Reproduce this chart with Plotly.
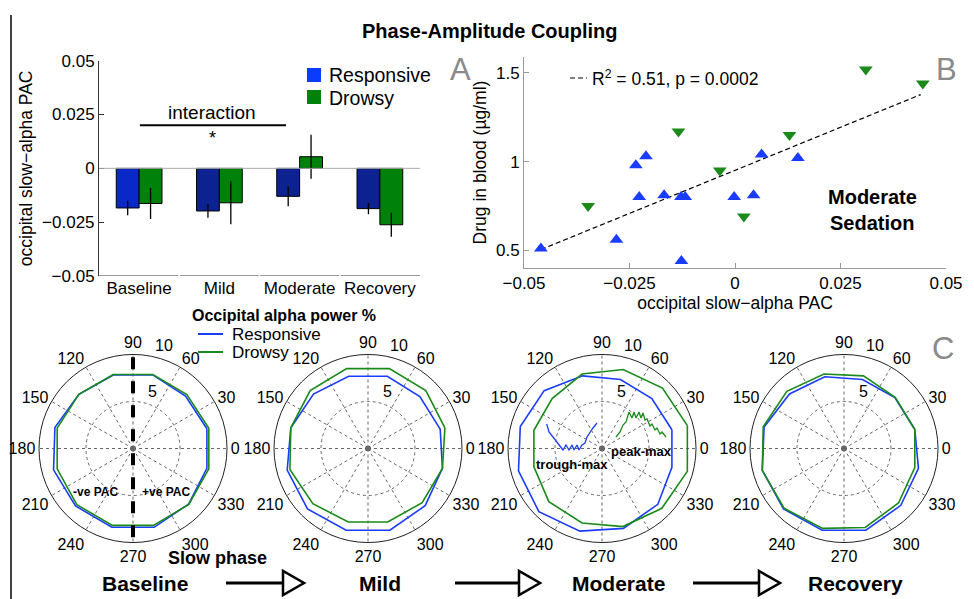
import plotly.graph_objects as go

# ---------------- data ----------------
categories = ["Baseline", "Mild", "Moderate", "Recovery"]
resp_pac = [-0.0184, -0.0198, -0.0130, -0.0187]
resp_err = [0.0034, 0.0032, 0.0046, 0.0026]
drowsy_pac = [-0.0163, -0.0160, 0.0054, -0.0262]
drowsy_err = [0.0072, 0.0100, 0.0102, 0.0056]

resp_x = [-0.0460, -0.0281, -0.0127, -0.0235, -0.0211, -0.0227, -0.0168,
          -0.0128, -0.0118, -0.0002, 0.0044, 0.0063, 0.0149]
resp_y = [0.51, 0.56, 0.44, 0.98, 1.03, 0.80, 0.81, 0.80, 0.80, 0.80, 0.81, 1.04, 1.02]
drowsy_x = [-0.0348, -0.0134, -0.0036, 0.0021, 0.0129, 0.0310, 0.0445]
drowsy_y = [0.75, 1.17, 0.95, 0.69, 1.15, 1.52, 1.44]
fit_x = [-0.046, 0.044]
fit_y = [0.504, 1.378]

phase_bins = [15, 45, 75, 105, 135, 165, 195, 225, 255, 285, 315, 345]
power_resp = {
    "Baseline": [8.14, 7.90, 8.10, 8.10, 8.14, 8.60, 8.75, 8.65, 8.68, 8.68, 8.36, 8.14],
    "Mild":     [7.95, 7.80, 7.95, 7.95, 8.20, 8.50, 8.90, 9.10, 9.00, 9.00, 8.60, 8.20],
    "Moderate": [7.70, 7.50, 7.60, 8.00, 8.70, 9.00, 9.20, 9.50, 9.10, 8.80, 8.40, 7.70],
    "Recovery": [7.80, 7.65, 7.60, 7.90, 8.20, 8.80, 9.00, 9.10, 9.00, 9.00, 8.55, 8.20],
}
power_drowsy = {
    "Baseline": [8.35, 8.10, 8.15, 8.15, 8.14, 8.35, 8.35, 8.45, 8.47, 8.47, 8.40, 8.35],
    "Mild":     [8.47, 8.70, 8.80, 8.80, 8.70, 8.50, 8.60, 8.30, 8.10, 8.10, 8.15, 8.20],
    "Moderate": [9.40, 9.10, 8.70, 8.20, 7.50, 7.50, 7.50, 8.00, 8.20, 8.60, 9.00, 9.40],
    "Recovery": [7.80, 7.70, 8.00, 8.20, 8.60, 8.90, 9.00, 9.00, 8.80, 8.70, 8.20, 7.80],
}
angle_ticks = [0, 30, 60, 90, 120, 150, 180, 210, 240, 270, 300, 330]
radial_tick_text = ["5", "10"]

# schematic insets (moderate panel)
trough_x = [6.7, 9, 13, 16, 20, 23, 26, 29, 32, 34, 37, 39, 42, 45, 47, 50, 53, 57]
trough_y = [31, 23, 18, 14, 9, 5, 10, 5, 10, 5, 10, 5, 10, 12, 18, 23, 27, 32]
peak_x = [76, 80, 83, 86, 89, 92, 94, 96, 99, 101, 103, 105, 107, 110, 112, 115, 117, 120, 122, 126]
peak_y = [18, 23, 30, 33, 43, 37, 43, 37, 43, 37, 42, 35, 36, 29, 31, 25, 27, 21, 23, 18]

# ---------------- style ----------------
W, H = 974, 599
FONT = "Liberation Sans, Arial, Helvetica, sans-serif"
BLUE = "#1a3cff"
BLUE_BAR0 = "#0a28c8"
BLUE_BAR = "#0c2290"
GREEN = "#1a8a1a"
GREEN_BAR = "#00820a"


def px(x):
    return x / W


def py(y):
    return 1 - y / H


fig = go.Figure()

# ---------- Panel A ----------
fig.add_trace(go.Bar(
    x=[1, 2, 3, 4], y=resp_pac, name="Responsive",
    marker=dict(color=[BLUE_BAR0, BLUE_BAR, BLUE_BAR, BLUE_BAR], line=dict(color="black", width=1)),
    error_y=dict(type="data", array=resp_err, color="black", thickness=1.3, width=0),
    xaxis="x", yaxis="y", showlegend=False))
fig.add_trace(go.Bar(
    x=[1, 2, 3, 4], y=drowsy_pac, name="Drowsy",
    marker=dict(color=GREEN_BAR, line=dict(color="black", width=1)),
    error_y=dict(type="data", array=drowsy_err, color="black", thickness=1.3, width=0),
    xaxis="x", yaxis="y", showlegend=False))

# ---------- Panel B ----------
fig.add_trace(go.Scatter(x=fit_x, y=fit_y, mode="lines",
                         line=dict(color="black", width=1.2, dash="5px,3px"),
                         xaxis="x2", yaxis="y2", showlegend=False))
fig.add_trace(go.Scatter(x=resp_x, y=resp_y, mode="markers",
                         marker=dict(symbol="triangle-up", size=12, color=BLUE),
                         xaxis="x2", yaxis="y2", showlegend=False))
fig.add_trace(go.Scatter(x=drowsy_x, y=drowsy_y, mode="markers",
                         marker=dict(symbol="triangle-down", size=12, color=GREEN),
                         xaxis="x2", yaxis="y2", showlegend=False))

# ---------- Panel C (polar) ----------
centers = [(133, 448.5), (368, 448.5), (602, 448.5), (844, 448.5)]
R = 94
polar_names = ["polar", "polar2", "polar3", "polar4"]
for cond, pname in zip(categories, polar_names):
    th = phase_bins + [phase_bins[0]]
    fig.add_trace(go.Scatterpolar(r=power_resp[cond] + [power_resp[cond][0]], theta=th,
                                  mode="lines", line=dict(color=BLUE, width=1.6),
                                  subplot=pname, showlegend=False))
    fig.add_trace(go.Scatterpolar(r=power_drowsy[cond] + [power_drowsy[cond][0]], theta=th,
                                  mode="lines", line=dict(color=GREEN, width=1.6),
                                  subplot=pname, showlegend=False))
    fig.add_trace(go.Scatterpolar(r=[0], theta=[0], mode="markers",
                                  marker=dict(symbol="circle-open", size=5, color="#555",
                                              line=dict(width=1)),
                                  subplot=pname, showlegend=False))

# baseline dashed divider
fig.add_trace(go.Scatterpolar(r=[9.7, 0, 9.7], theta=[90, 90, 270], mode="lines",
                              line=dict(color="black", width=4, dash="dash"),
                              subplot="polar", showlegend=False))

# inset waveforms
fig.add_trace(go.Scatter(x=trough_x, y=trough_y, mode="lines", line=dict(color=BLUE, width=1.3),
                         xaxis="x3", yaxis="y3", showlegend=False))
fig.add_trace(go.Scatter(x=peak_x, y=peak_y, mode="lines", line=dict(color=GREEN, width=1.3),
                         xaxis="x3", yaxis="y3", showlegend=False))

tickfont = dict(family=FONT, size=17, color="black")
titlefont = dict(family=FONT, size=17.5, color="black")
polarfont = dict(family=FONT, size=16, color="black")

layout = dict(
    width=W, height=H, margin=dict(l=0, r=0, t=0, b=0, pad=0, autoexpand=False),
    paper_bgcolor="white", plot_bgcolor="rgba(0,0,0,0)",
    font=dict(family=FONT, color="black"),
    barmode="group", bargap=0.43, bargroupgap=0.0,
    showlegend=False,
    xaxis=dict(domain=[px(99), px(420)], range=[0.5, 4.5], tickvals=[1, 2, 3, 4],
               ticktext=categories, showline=False, showgrid=False, zeroline=False,
               ticks="", tickfont=tickfont, anchor="y", automargin=False),
    yaxis=dict(domain=[py(276), py(60.7)], range=[-0.05, 0.05],
               tickvals=[-0.05, -0.025, 0, 0.025, 0.05],
               ticktext=["−0.05", "−0.025", "0", "0.025", "0.05"],
               showline=True, linecolor="#333", linewidth=1, showgrid=False, zeroline=False,
               ticks="inside", ticklen=5, tickcolor="#333", tickfont=tickfont,
               title=dict(text="occipital slow−alpha PAC", font=titlefont, standoff=4),
               anchor="x", automargin=False),
    xaxis2=dict(domain=[px(524), px(946)], range=[-0.05, 0.05],
                tickvals=[-0.05, -0.025, 0, 0.025, 0.05],
                ticktext=["−0.05", "−0.025", "0", "0.025", "0.05"],
                showline=True, linecolor="#999", linewidth=1, showgrid=False, zeroline=False,
                ticks="inside", ticklen=5, tickcolor="#999", tickfont=tickfont,
                title=dict(text="occipital slow−alpha PAC", font=titlefont, standoff=0),
                anchor="y2", automargin=False),
    yaxis2=dict(domain=[py(268), py(57)], range=[0.4, 1.59], tickvals=[0.5, 1, 1.5],
                ticktext=["0.5", "1", "1.5"],
                showline=True, linecolor="#999", linewidth=1, showgrid=False, zeroline=False,
                ticks="inside", ticklen=5, tickcolor="#999", tickfont=tickfont,
                title=dict(text="Drug in blood (µg/ml)", font=titlefont, standoff=4),
                anchor="x2", automargin=False),
    xaxis3=dict(domain=[px(540), px(670)], range=[0, 130], visible=False, anchor="y3"),
    yaxis3=dict(domain=[py(455), py(405)], range=[0, 50], visible=False, anchor="x3"),
)

for (cx, cy), pname in zip(centers, polar_names):
    layout[pname] = dict(
        domain=dict(x=[px(cx - R), px(cx + R)], y=[py(cy + R), py(cy - R)]),
        bgcolor="rgba(0,0,0,0)",
        angularaxis=dict(rotation=0, direction="counterclockwise", tickvals=angle_ticks,
                         ticktext=[str(a) for a in angle_ticks], ticks="",
                         showline=True, linecolor="#222", linewidth=1,
                         gridcolor="#666", griddash="dot", gridwidth=1,
                         tickfont=polarfont),
        radialaxis=dict(range=[0, 10], tickvals=[5, 10], showticklabels=False,
                        showline=False, ticks="",
                        gridcolor="#666", griddash="dot", gridwidth=1),
    )

fig.update_layout(**layout)

ann = []


def add_text(x, y, text, size=15, color="black", bold=False, xanchor="center", yanchor="middle"):
    t = f"<b>{text}</b>" if bold else text
    ann.append(dict(x=px(x), y=py(y), xref="paper", yref="paper", text=t, showarrow=False,
                    font=dict(family=FONT, size=size, color=color),
                    xanchor=xanchor, yanchor=yanchor))


add_text(490, 31, "Phase-Amplitude Coupling", size=20, bold=True)
add_text(460, 70, "A", size=31, color="#8a8a8a")
add_text(946, 70, "B", size=31, color="#8a8a8a")
add_text(943, 348, "C", size=31, color="#8a8a8a")
# A legend
add_text(327, 75, "Responsive", size=19.5, xanchor="left")
add_text(327, 98, "Drowsy", size=19.5, xanchor="left")
add_text(212, 112, "interaction", size=19)
add_text(212, 138, "*", size=18)
# B
add_text(590, 78, "R<sup>2</sup> = 0.51, p = 0.0002", size=17.5, xanchor="left")
add_text(872, 197, "Moderate", size=20, bold=True)
add_text(872, 223, "Sedation", size=20, bold=True)
# C
add_text(284, 315, "Occipital alpha power %", size=16, bold=True)
add_text(230, 334, "Responsive", size=17, xanchor="left")
add_text(230, 352, "Drowsy", size=17, xanchor="left")
add_text(95, 492, "-ve PAC", size=12, bold=True)
add_text(166, 492, "+ve PAC", size=12, bold=True)
add_text(217, 558, "Slow phase", size=18, bold=True)
add_text(572, 464, "trough-max", size=13, bold=True)
add_text(641, 451, "peak-max", size=13, bold=True)
for (cx, cy) in centers:
    add_text(cx + 19, cy - 57, radial_tick_text[0], size=16)
    add_text(cx + 31, cy - 103, radial_tick_text[1], size=16)
for lbl, xc in zip(categories, [145, 380, 618, 855]):
    add_text(xc, 583, lbl, size=21, bold=True)

shapes = []
# left border line
shapes.append(dict(type="line", xref="paper", yref="paper", x0=px(11), x1=px(11), y0=py(15), y1=py(599),
                   line=dict(color="black", width=1.5)))
# A zero line and segmented x-axis
shapes.append(dict(type="line", xref="x", yref="y", x0=0.5, x1=4.5, y0=0, y1=0,
                   line=dict(color="#aaaaaa", width=1)))
for a, b in [(0.5, 1.49), (1.51, 2.49), (2.51, 3.49), (3.51, 4.5)]:
    shapes.append(dict(type="line", xref="x", yref="y", x0=a, x1=b, y0=-0.05, y1=-0.05,
                       line=dict(color="#333", width=1)))
# interaction bar
shapes.append(dict(type="line", xref="x", yref="y", x0=1.01, x1=2.83, y0=0.02, y1=0.02,
                   line=dict(color="black", width=2)))
# A legend squares
for yy, col in [(75, "#0a3cff"), (97, GREEN_BAR)]:
    shapes.append(dict(type="rect", xref="paper", yref="paper", x0=px(307), x1=px(321),
                       y0=py(yy + 7), y1=py(yy - 7), fillcolor=col, line=dict(width=0)))
# B dashed legend line
shapes.append(dict(type="line", xref="paper", yref="paper", x0=px(570), x1=px(587), y0=py(78), y1=py(78),
                   line=dict(color="black", width=1.2, dash="5px,3px")))
# C legend lines
for yy, col in [(334, BLUE), (352, GREEN)]:
    shapes.append(dict(type="line", xref="paper", yref="paper", x0=px(198), x1=px(223), y0=py(yy), y1=py(yy),
                       line=dict(color=col, width=2)))
# arrows between conditions
for x0, x1 in [(226, 304), (455, 540), (693, 780)]:
    xh = x1 - 21
    shapes.append(dict(type="line", xref="paper", yref="paper", x0=px(x0), x1=px(xh), y0=py(583), y1=py(583),
                       line=dict(color="black", width=3)))
    path = f"M {px(xh)} {py(571)} L {px(xh)} {py(595)} L {px(x1)} {py(583)} Z"
    shapes.append(dict(type="path", xref="paper", yref="paper", path=path,
                       fillcolor="white", line=dict(color="black", width=2.5)))

fig.update_layout(annotations=ann, shapes=shapes)

fig.write_html("out.html", config={"displayModeBar": False},
               post_script="document.body.style.margin='0px';document.body.style.overflow='hidden';")
